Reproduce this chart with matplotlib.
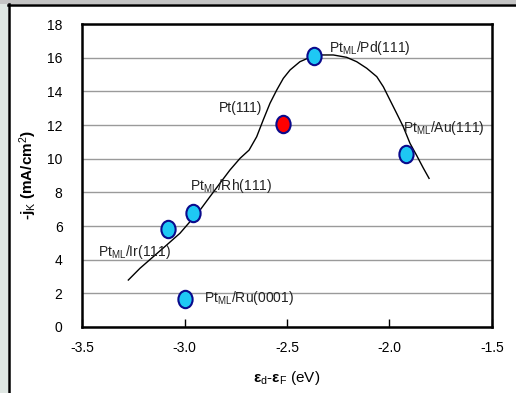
import matplotlib
matplotlib.use("Agg")
import matplotlib.pyplot as plt
from matplotlib.markers import MarkerStyle
from matplotlib.patches import Rectangle
from matplotlib.lines import Line2D
from matplotlib.transforms import Affine2D

plt.rcParams["font.family"] = ["Liberation Sans Narrow", "Liberation Sans", "DejaVu Sans"]
plt.rcParams["mathtext.fontset"] = "custom"
plt.rcParams["mathtext.rm"] = "Liberation Sans"
plt.rcParams["mathtext.bf"] = "Liberation Sans:bold"
plt.rcParams["mathtext.it"] = "Liberation Sans:italic"

# ── data ──────────────────────────────────────────────────────────────────────
labels = ["Pt$_\\mathrm{ML}$/Pd(111)", "Pt(111)", "Pt$_\\mathrm{ML}$/Au(111)",
          "Pt$_\\mathrm{ML}$/Rh(111)", "Pt$_\\mathrm{ML}$/Ir(111)",
          "Pt$_\\mathrm{ML}$/Ru(0001)"]
d_band = [-2.37, -2.52, -1.92, -2.96, -3.08, -3.00]
jk     = [16.1, 12.05, 10.25, 6.75, 5.85, 1.65]
colors = ["#1ec8f4", "#ff0000", "#1ec8f4", "#1ec8f4", "#1ec8f4", "#1ec8f4"]

# hand-drawn trend curve
curve_x = [-3.274, -3.217, -3.152, -3.087, -3.022, -2.973, -2.924, -2.876,
           -2.827, -2.778, -2.729, -2.685, -2.648, -2.616, -2.583, -2.550,
           -2.518, -2.485, -2.437, -2.388, -2.339, -2.274, -2.209, -2.160,
           -2.111, -2.062, -2.030, -1.998, -1.965, -1.933, -1.900, -1.867,
           -1.835, -1.807]
curve_y = [2.79, 3.49, 4.18, 4.87, 5.57, 6.26, 6.95, 7.74,
           8.54, 9.33, 10.02, 10.51, 11.30, 12.30, 13.29, 14.08,
           14.77, 15.27, 15.76, 16.02, 16.16, 16.16, 16.02, 15.76,
           15.37, 14.87, 14.27, 13.49, 12.69, 11.90, 10.91, 10.18,
           9.44, 8.83]

# label anchor positions (data coords) and alignment
label_x  = [-2.295, -2.62, -1.935, -2.975, -3.42, -2.905]
label_y  = [16.55, 13.0, 11.85, 8.4, 4.45, 1.7]
label_ha = ["left", "right", "left", "left", "left", "left"]

# ── figure ────────────────────────────────────────────────────────────────────
fig = plt.figure(figsize=(5.16, 3.93), dpi=100)
fig.patch.set_facecolor("white")

# window-like frame around the slide
fig.add_artist(Rectangle((0, 0), 8 / 516, 1, transform=fig.transFigure,
                         facecolor="#dfe7e3", edgecolor="none"))
fig.add_artist(Rectangle((0, 1 - 4 / 393), 1, 4 / 393, transform=fig.transFigure,
                         facecolor="#c4c4c4", edgecolor="none"))
fig.add_artist(Line2D([8.5 / 516, 8.5 / 516], [0, 1 - 4 / 393],
                      transform=fig.transFigure, color="black", linewidth=1.8))
fig.add_artist(Line2D([8 / 516, 1], [1 - 5 / 393, 1 - 5 / 393],
                      transform=fig.transFigure, color="black", linewidth=1.8))

ax = fig.add_axes([82 / 516, 66 / 393, 410 / 516, 303 / 393])

ax.set_xlim(-3.5, -1.5)
ax.set_ylim(0, 18)
ax.set_xticks([-3.5, -3.0, -2.5, -2.0, -1.5])
ax.set_xticklabels(["-3.5", "-3.0", "-2.5", "-2.0", "-1.5"])
ax.set_yticks(range(0, 19, 2))
ax.yaxis.grid(True, color="#9a9a9a", linewidth=1.0)
ax.set_axisbelow(True)
ax.tick_params(axis="x", direction="in", length=6, width=1, labelsize=10, pad=10)
ax.tick_params(axis="y", length=0, labelsize=10, pad=14)
for s in ax.spines.values():
    s.set_linewidth(1.8)

ax.plot(curve_x, curve_y, color="black", linewidth=1.0, zorder=3)

oval = MarkerStyle("o", transform=Affine2D().scale(0.82, 1.0))
for x, y, c in zip(d_band, jk, colors):
    ax.plot(x, y, linestyle="none", marker=oval, markersize=12.5,
            markerfacecolor=c, markeredgecolor="#0a0a8c", markeredgewidth=1.5,
            zorder=4)

for lab, x, y, ha in zip(labels, label_x, label_y, label_ha):
    ax.text(x, y, lab, ha=ha, va="center", fontsize=10, color="#222222", zorder=5)

ax.set_ylabel("-j$_\\mathrm{K}$ (mA/cm$^\\mathrm{2}$)", fontsize=11,
              fontweight="bold", family="Liberation Sans", labelpad=6)
ax.set_xlabel("$\\boldsymbol{\\varepsilon}_\\mathrm{d}$-$\\boldsymbol{\\varepsilon}_\\mathrm{F}$ (eV)",
              fontsize=11, labelpad=10)

fig.savefig("out.png", dpi=100)
